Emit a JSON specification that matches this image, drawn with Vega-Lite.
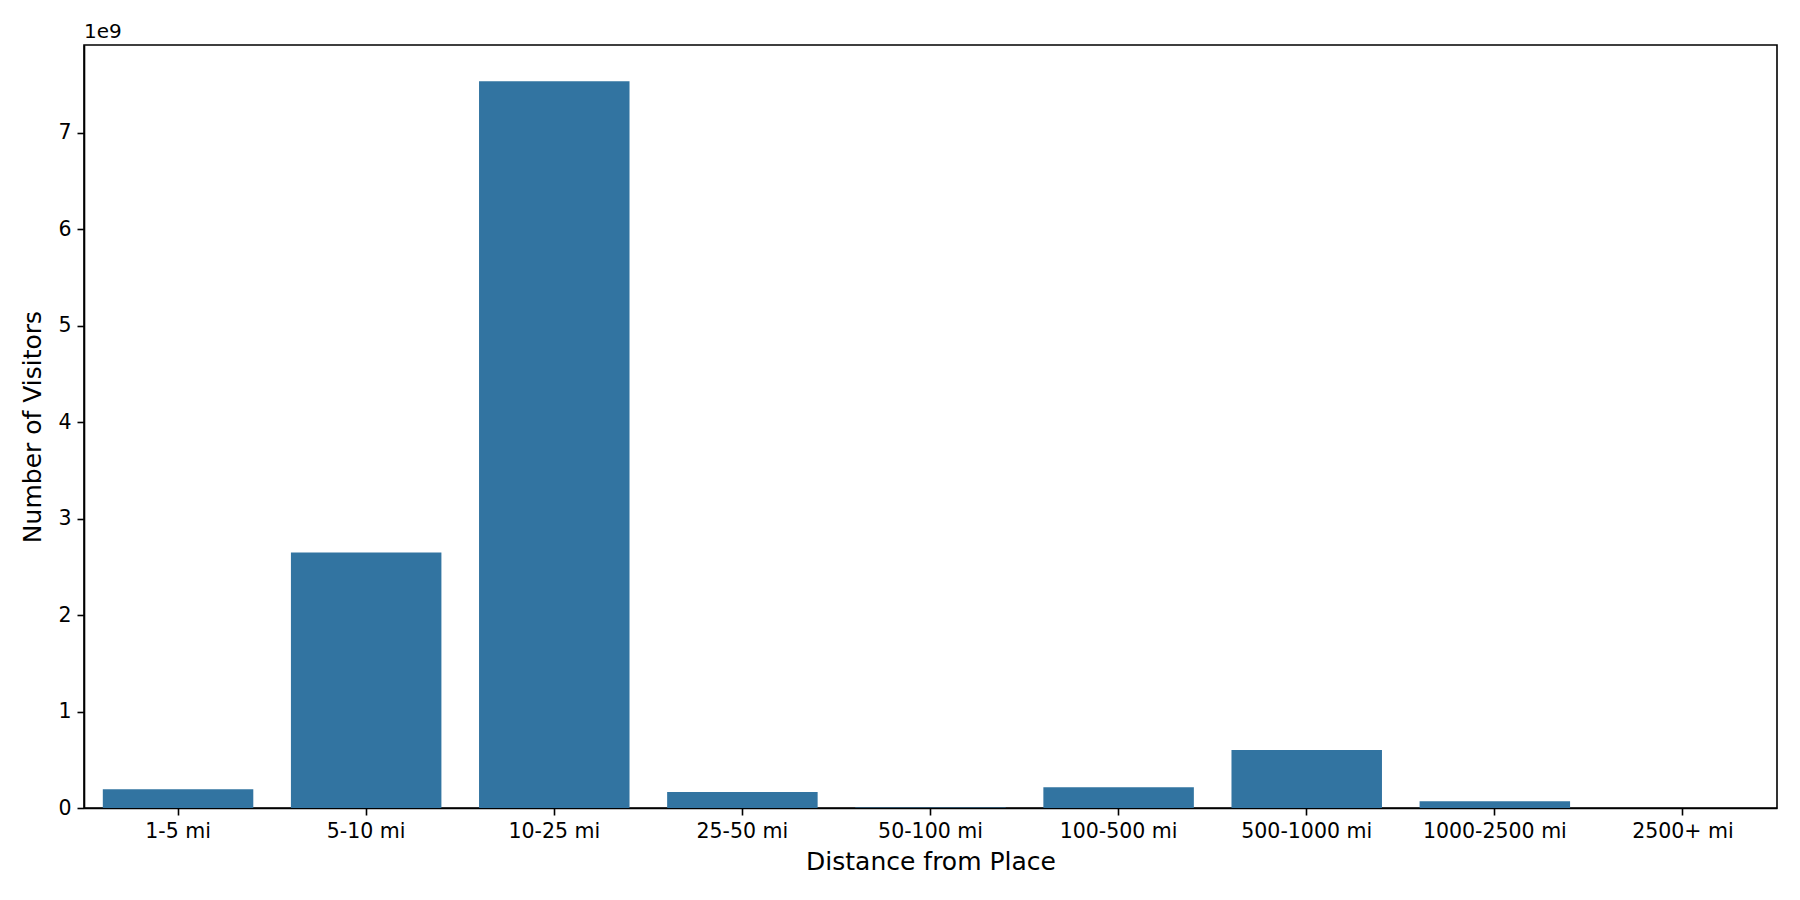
{
  "$schema": "https://vega.github.io/schema/vega-lite/v6.json",
  "width": 1693,
  "height": 763,
  "autosize": {"type": "none"},
  "padding": {"left": 84, "top": 45, "right": 23, "bottom": 92},
  "background": "white",
  "title": {
    "text": "1e9",
    "anchor": "start",
    "frame": "group",
    "font": "DejaVu Sans",
    "fontSize": 20,
    "fontWeight": "normal",
    "color": "black",
    "baseline": "alphabetic",
    "offset": 7,
    "dy": 20
  },
  "config": {
    "font": "DejaVu Sans",
    "view": {"stroke": "black", "strokeWidth": 1.6},
    "axis": {
      "labelFont": "DejaVu Sans",
      "titleFont": "DejaVu Sans",
      "labelColor": "black",
      "titleColor": "black",
      "tickColor": "black",
      "domainColor": "black",
      "domainWidth": 1.6,
      "tickWidth": 1.6,
      "tickSize": 7,
      "labelPadding": 6,
      "labelFontSize": 20.5,
      "titleFontSize": 25,
      "titleFontWeight": "normal",
      "grid": false
    }
  },
  "data": {
    "values": [
      {"distance": "1-5 mi", "visitors": 194000000},
      {"distance": "5-10 mi", "visitors": 2650000000},
      {"distance": "10-25 mi", "visitors": 7535000000},
      {"distance": "25-50 mi", "visitors": 166000000},
      {"distance": "50-100 mi", "visitors": 6000000},
      {"distance": "100-500 mi", "visitors": 215000000},
      {"distance": "500-1000 mi", "visitors": 602000000},
      {"distance": "1000-2500 mi", "visitors": 70000000},
      {"distance": "2500+ mi", "visitors": 1000000}
    ]
  },
  "mark": {"type": "bar", "color": "#3274a1"},
  "encoding": {
    "x": {
      "field": "distance",
      "type": "nominal",
      "sort": null,
      "title": "Distance from Place",
      "scale": {"paddingInner": 0.2, "paddingOuter": 0.1},
      "axis": {"labelAngle": 0, "titlePadding": 8}
    },
    "y": {
      "field": "visitors",
      "type": "quantitative",
      "title": "Number of Visitors",
      "scale": {"domain": [0, 7912000000], "nice": false, "zero": true},
      "axis": {
        "values": [0, 1000000000, 2000000000, 3000000000, 4000000000, 5000000000, 6000000000, 7000000000],
        "labelExpr": "format(datum.value / 1e9, 'd')",
        "titlePadding": 12
      }
    }
  }
}
